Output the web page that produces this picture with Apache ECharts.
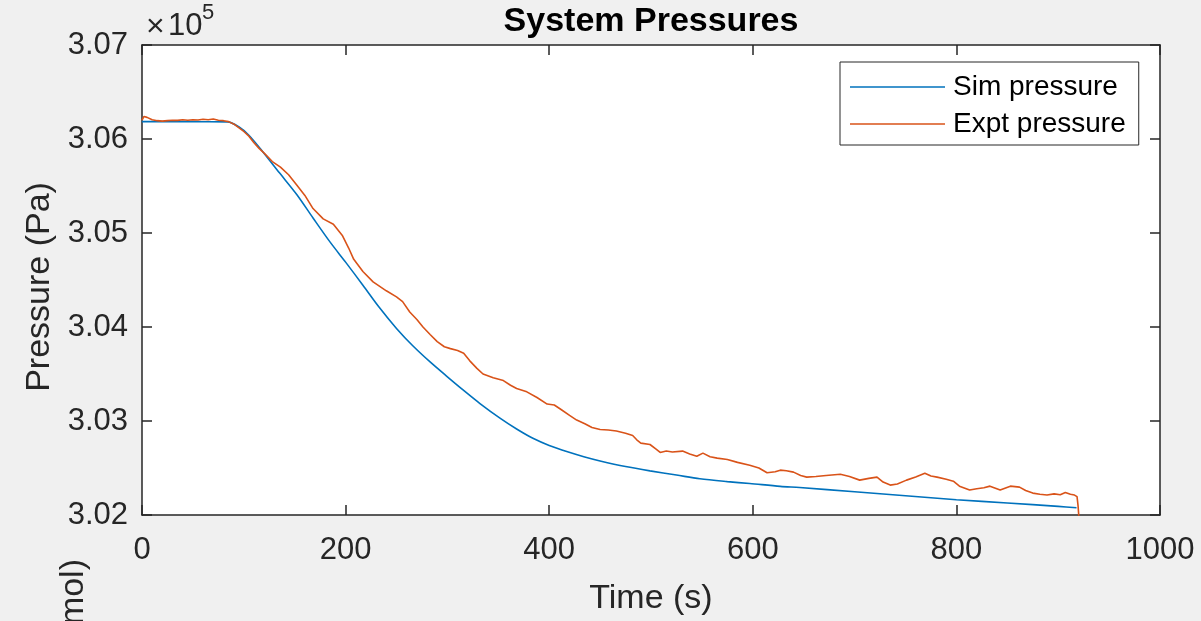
<!DOCTYPE html>
<html>
<head>
<meta charset="utf-8">
<script src="https://cdn.jsdelivr.net/npm/echarts@6/dist/echarts.min.js"></script>
<style>
html,body{margin:0;padding:0;background:#f0f0f0;}
#chart{width:1201px;height:621px;}
</style>
</head>
<body>
<div id="chart"></div>
<script>
// ---- data ----
const xTicks = [0, 200, 400, 600, 800, 1000];
const yTicks = [302000, 303000, 304000, 305000, 306000, 307000];

const simTime = [0, 30, 60, 84, 95, 105, 119, 135, 152, 168, 185, 200, 217, 233, 250, 266, 283, 300, 316, 332, 352, 368, 384, 400, 418, 434, 450, 475, 499, 525, 548, 575, 597, 627, 646, 700, 750, 800, 850, 900, 918];
const simPressure = [306185, 306185, 306184, 306182, 306130, 306040, 305860, 305640, 305410, 305160, 304900, 304690, 304445, 304210, 303985, 303800, 303628, 303470, 303325, 303186, 303028, 302915, 302816, 302740, 302672, 302620, 302575, 302515, 302469, 302425, 302385, 302355, 302335, 302305, 302292, 302247, 302205, 302162, 302128, 302092, 302077];

const exptTime = [0, 2, 5, 10, 15, 20, 25, 30, 35, 40, 45, 50, 55, 60, 65, 70, 75, 80, 85, 90, 95, 100, 105, 110, 115, 120, 128, 136, 144, 152, 160, 168, 178, 188, 197, 203, 208, 217, 227, 240, 250, 256, 263, 270, 276, 283, 290, 297, 303, 310, 316, 322, 329, 335, 345, 355, 362, 368, 378, 388, 398, 405, 412, 420, 427, 435, 442, 450, 458, 466, 475, 482, 486, 490, 499, 505, 509, 515, 521, 531, 538, 545, 551, 558, 565, 575, 585, 597, 606, 614, 622, 627, 633, 640, 647, 653, 662, 672, 686, 695, 705, 714, 722, 728, 735, 742, 751, 760, 769, 775, 781, 790, 797, 803, 813, 820, 827, 833, 843, 853, 862, 868, 875, 882, 889, 896, 902, 907, 912, 916, 918.5, 919.5, 920.5];
const exptPressure = [306200, 306240, 306230, 306205, 306195, 306190, 306195, 306200, 306198, 306205, 306200, 306205, 306202, 306210, 306205, 306212, 306200, 306195, 306185, 306160, 306120, 306080, 306030, 305960, 305900, 305850, 305760, 305700, 305620, 305510, 305400, 305260, 305150, 305093, 304970, 304840, 304720, 304590, 304480, 304385, 304320, 304270, 304160, 304080, 304000, 303920, 303845, 303790, 303770, 303750, 303720, 303640, 303560, 303500, 303460, 303430, 303380, 303345, 303310, 303250, 303180, 303170, 303120, 303060, 303010, 302970, 302930, 302910, 302905, 302893, 302870, 302845, 302800, 302765, 302750, 302700, 302665, 302680, 302670, 302680, 302650, 302625, 302658, 302620, 302605, 302590, 302560, 302530, 302500, 302450, 302460, 302477, 302470, 302456, 302420, 302403, 302410, 302420, 302434, 302410, 302371, 302390, 302403, 302350, 302318, 302330, 302371, 302405, 302445, 302415, 302403, 302380, 302360, 302307, 302265, 302280, 302290, 302307, 302265, 302307, 302297, 302260, 302233, 302220, 302212, 302225, 302215, 302240, 302220, 302212, 302195, 302100, 301950];

const seriesNames = ['Sim pressure', 'Expt pressure'];
const titleText = 'System Pressures';
const xLabel = 'Time (s)';
const yLabel = 'Pressure (Pa)';

// ---- chart ----
const FONT = '"Liberation Sans", Arial, Helvetica, sans-serif';
const AX = '#262626';
const chart = echarts.init(document.getElementById('chart'), null, {renderer: 'canvas'});

const pair = (xs, ys) => xs.map((x, i) => [x, ys[i]]);

function axisCommon(extra) {
  return Object.assign({
    type: 'value',
    axisLine: {show: true, onZero: false, lineStyle: {color: AX, width: 1.5}},
    axisTick: {show: true, inside: true, length: 10, lineStyle: {color: AX, width: 1.5}},
    splitLine: {show: false},
    axisLabel: {color: AX, fontSize: 31, fontFamily: FONT},
  }, extra);
}

const option = {
  backgroundColor: '#f0f0f0',
  animation: false,
  grid: {left: 142, right: 41, top: 45, bottom: 104, show: true, backgroundColor: '#ffffff', borderWidth: 0},
  xAxis: [
    axisCommon({position: 'bottom', min: xTicks[0], max: xTicks[xTicks.length - 1], interval: xTicks[1] - xTicks[0],
      axisLabel: {color: AX, fontSize: 31, fontFamily: FONT, margin: 20, formatter: v => String(v)},
      name: xLabel, nameLocation: 'middle', nameGap: 67,
      nameTextStyle: {color: AX, fontSize: 34, fontFamily: FONT}}),
    axisCommon({position: 'top', min: xTicks[0], max: xTicks[xTicks.length - 1], interval: xTicks[1] - xTicks[0],
      axisLabel: {show: false}})
  ],
  yAxis: [
    axisCommon({position: 'left', min: yTicks[0], max: yTicks[yTicks.length - 1], interval: yTicks[1] - yTicks[0],
      axisLabel: {color: AX, fontSize: 31, fontFamily: FONT, margin: 14, formatter: v => (v / 1e5).toFixed(2)},
      name: yLabel, nameLocation: 'middle', nameGap: 84, nameRotate: 90,
      nameTextStyle: {color: AX, fontSize: 34, fontFamily: FONT, padding: [0, 14, 0, 0]}}),
    axisCommon({position: 'right', min: yTicks[0], max: yTicks[yTicks.length - 1], interval: yTicks[1] - yTicks[0],
      axisLabel: {show: false}})
  ],
  legend: {
    orient: 'vertical', left: 840, top: 62,
    backgroundColor: '#ffffff', borderColor: AX, borderWidth: 1, borderRadius: 0,
    padding: [11, 13, 7, 10], itemGap: 9, itemWidth: 95, itemHeight: 1.6, icon: 'rect',
    textStyle: {color: '#000', fontSize: 28, fontFamily: FONT, lineHeight: 28, padding: [0, 0, 0, 3]},
    data: seriesNames
  },
  series: [
    {name: seriesNames[0], type: 'line', data: pair(simTime, simPressure), symbol: 'none', smooth: 0.3,
      lineStyle: {color: '#0072BD', width: 1.6}, itemStyle: {color: '#0072BD'}, clip: true},
    {name: seriesNames[1], type: 'line', data: pair(exptTime, exptPressure), symbol: 'none',
      lineStyle: {color: '#D95319', width: 1.6}, itemStyle: {color: '#D95319'}, clip: true}
  ],
  graphic: [
    {type: 'text', x: 651, y: 22, style: {text: titleText, font: 'bold 34px ' + FONT, fill: '#000', textAlign: 'center', textVerticalAlign: 'middle'}},
    {type: 'text', x: 146, y: 27, style: {text: '\u00d7', font: '32px ' + FONT, fill: AX, textAlign: 'left', textVerticalAlign: 'middle'}},
    {type: 'text', x: 168, y: 26, style: {text: '10', font: '31px ' + FONT, fill: AX, textAlign: 'left', textVerticalAlign: 'middle'}},
    {type: 'text', x: 202, y: 13, style: {text: '5', font: '22px ' + FONT, fill: AX, textAlign: 'left', textVerticalAlign: 'middle'}},
    {type: 'text', x: 74, y: 559, rotation: Math.PI / 2, style: {text: 'mol)', font: '34px ' + FONT, fill: AX, textAlign: 'right', textVerticalAlign: 'middle'}}
  ]
};
chart.setOption(option);
</script>
</body>
</html>
